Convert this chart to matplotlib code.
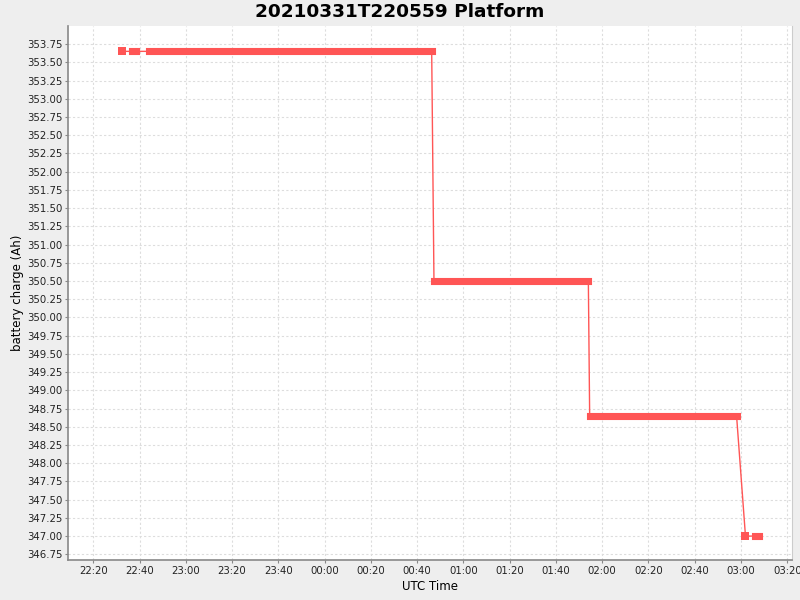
import datetime as dt
import matplotlib
matplotlib.use('Agg')
import matplotlib.pyplot as plt
import matplotlib.dates as mdates
import numpy as np

# ── Data: plateaus of battery charge (start, end, value) ──────────────────
run_start = ['2021-03-31 22:32:34', '2021-03-31 22:36:55', '2021-03-31 22:44:15',
             '2021-04-01 00:47:16', '2021-04-01 01:54:34', '2021-04-01 03:01:55',
             '2021-04-01 03:05:50']
run_end = ['2021-03-31 22:32:34', '2021-03-31 22:38:31', '2021-04-01 00:46:17',
           '2021-04-01 01:54:00', '2021-04-01 02:58:04', '2021-04-01 03:01:55',
           '2021-04-01 03:07:34']
run_value = [353.65, 353.65, 353.65, 350.50, 348.65, 347.00, 347.00]

y_ticks = np.arange(346.75, 353.76, 0.25)

RED = '#FF5555'
BAR = 5.1  # pt, thickness of the dense square markers


def parse(s):
    return dt.datetime.strptime(s, '%Y-%m-%d %H:%M:%S')


starts = [parse(s) for s in run_start]
ends = [parse(s) for s in run_end]

fig = plt.figure(figsize=(8, 6), dpi=100, facecolor='#EEEEEE')
ax = fig.add_axes([0.0854, 0.0662, 0.905, 0.8905])
ax.set_facecolor('white')

# thin connecting line through all points in order
xs, ys = [], []
for s, e, v in zip(starts, ends, run_value):
    xs += [s, e]
    ys += [v, v]
ax.plot(xs, ys, color=RED, linewidth=1, zorder=3)

# dense square markers drawn as thick bars
for s, e, v in zip(starts, ends, run_value):
    if s == e:
        ax.plot([s], [v], linestyle='none', marker='s', markersize=BAR,
                color=RED, markeredgewidth=0, zorder=4)
    else:
        ax.plot([s, e], [v, v], color=RED, linewidth=BAR,
                solid_capstyle='projecting', zorder=4)

ax.set_xlim(parse('2021-03-31 22:09:13'), parse('2021-04-01 03:22:10'))
ax.set_ylim(346.668, 353.998)
ax.set_yticks(y_ticks)
ax.yaxis.set_major_formatter(matplotlib.ticker.FormatStrFormatter('%.2f'))
ax.xaxis.set_major_locator(mdates.MinuteLocator(byminute=[0, 20, 40]))
ax.xaxis.set_major_formatter(mdates.DateFormatter('%H:%M'))

ax.grid(True, color='#DDDDDD', linestyle=(0, (2, 2)), linewidth=0.8)
ax.set_axisbelow(True)

for side in ['left', 'bottom']:
    ax.spines[side].set_color('#888888')
    ax.spines[side].set_linewidth(1.2)
ax.spines['top'].set_visible(False)
ax.spines['right'].set_color('#CCCCCC')

ax.tick_params(axis='both', length=2, width=0.8, color='#888888',
               labelsize=7.3, labelcolor='#222222', pad=2)

ax.set_xlabel('UTC Time', fontsize=8.5, labelpad=3)
ax.set_ylabel('battery charge (Ah)', fontsize=8.5, labelpad=2)
fig.text(0.5, 0.98, '20210331T220559 Platform', ha='center', va='center',
         fontsize=13.3, fontweight='bold')

plt.savefig('out.png', dpi=100, facecolor=fig.get_facecolor())
